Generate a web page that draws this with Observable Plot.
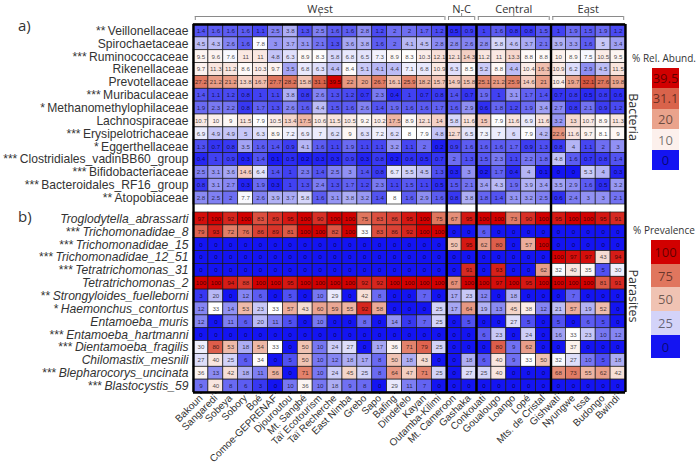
<!DOCTYPE html>
<html><head><meta charset="utf-8">
<script src="https://cdn.jsdelivr.net/npm/d3@7"></script>
<script src="https://cdn.jsdelivr.net/npm/@observablehq/plot@0.6"></script>
<style>
body{margin:0;background:#fff;}
#chart{position:relative;width:696px;height:463px;overflow:hidden;font-family:"Liberation Sans",Arial,sans-serif;background:#fff;}
#chart svg{position:absolute;left:0;}
.lbl{position:absolute;line-height:1;white-space:nowrap;font-family:"Open Sans",sans-serif;color:#333;}
.box{position:absolute;display:flex;align-items:center;justify-content:center;font-family:"Open Sans",sans-serif;color:rgba(0,0,0,0.55);}
</style></head><body><div id="chart"></div>
<script>
// ---------- DATA ----------
const sites = ["Bakoun","Sangaredi","Sobeya","Sobory","Boé","Comoe-GEPRENAF","Djouroutou","Mt. Sangbé","Taï Ecotourism","Taï Recherche","East Nimba","Grebo","Sapo","Bafing","Dindefelo","Kayan","Outamba-Kilimi","Mt. Cameroon","Gashaka","Conkouati","Goualougo","Loango","Lopé","Mts. de Cristal","Gishwati","Nyungwe","Issa","Budongo","Bwindi"];
const regionNames = ["West","N-C","Central","East"];
const regionSizes = [17,2,5,5];

const bacteriaNames = ["Veillonellaceae","Spirochaetaceae","Ruminococcaceae","Rikenellaceae","Prevotellaceae","Muribaculaceae","Methanomethylophilaceae","Lachnospiraceae","Erysipelotrichaceae","Eggerthellaceae","Clostridiales_vadinBB60_group","Bifidobacteriaceae","Bacteroidales_RF16_group","Atopobiaceae"];
const bacteriaStars = ["**","","***","","","***","*","","***","*","***","***","***","**"];
const bacteriaAbundance = [
 [1.4,1.6,1.6,1.6,1.1,2.5,3.8,1.3,2.5,1.6,1.6,2.8,1.2,2,2,1.7,1.2,0.5,0.9,1,1.6,0.8,0.8,1.5,1,1.9,1.5,1.9,1.2],
 [4.5,4.3,2.6,1.6,7.8,3,3.7,3.1,2.1,1.3,3.6,3.8,1.6,2,4.1,4.5,2.8,2.8,2.6,2.8,5.8,4.6,3.7,2.1,3.9,3.3,1.6,5,3.4],
 [9.5,9.6,7.6,11,11,4.8,6.3,8.9,8.3,5.8,6.8,6.5,7.3,8.9,8.3,10.3,12.1,12.1,14.3,11.2,11,13.3,8.8,8.8,10,8.9,7.5,10.5,9.5],
 [9.7,11.3,11.2,8.6,10.3,9.7,3.5,6.8,6.3,4.4,8.4,5.1,4.1,4.4,7.1,6.8,10.9,6.3,8.5,5.2,8.8,4.4,10.4,16.3,10.9,6.2,2.9,4.5,11.5],
 [27.2,21.2,21.2,13.8,16.7,27.7,28.2,15.8,31.1,39.5,22,20,26.7,16.1,25.9,18.2,15.7,14.9,15.8,25.1,21.2,25.9,14.6,21,10.4,19.7,32.1,27.6,19.8],
 [1.4,1.1,1.2,0.8,1,1.1,3.8,0.8,2.6,1.3,1.2,0.7,2.3,0.4,1,0.7,0.8,1.4,0.7,1.9,1,3.1,1.7,1.4,0.7,0.8,0.5,0.8,0.6],
 [1.9,2.3,2.2,0.8,1.7,1.3,2.6,1.6,4.4,1.5,1.6,2.6,1.4,1.9,1.6,1.6,1.7,1.6,2.9,0.6,1.8,1.2,1.9,3.4,2.7,0.8,2.1,0.9,1.2],
 [10.7,10,9,11.5,7.9,10.5,13.4,17.5,10.6,11.5,10.5,9.2,10.2,17.5,8.9,12.1,14,5.8,11.6,15,7.9,11.6,6.9,11.6,3.2,13,10.7,8.9,11.3],
 [6.9,4.9,4.9,5,6.3,8.9,7.2,6.9,7,6.2,9,6.3,7.2,6.2,8,7.9,4.8,12.7,6.5,7.3,7,6,7.9,4.2,22.6,11.6,9.7,8.1,9],
 [1.3,0.7,0.8,3.5,1.6,1.4,0.9,4.1,1.6,1.1,1.9,1.1,1.1,3.2,1.1,2,0.2,0.9,1.6,1.6,1.6,1.7,0.9,1.3,0.8,4,1.1,2,3],
 [0.4,1,0.9,0.3,1.4,0.1,0.5,0.2,0.3,0.3,0.9,0.3,0.8,0.2,0.6,0.5,0.7,2,1.3,1.5,2.3,1.1,2.2,1.8,4.8,1.6,0.7,0.8,1.4],
 [2.5,3.1,3.6,14.6,6.4,1.4,1,2.3,1.4,2.5,3,1.4,0.8,6.7,5.5,4.5,1.3,0.3,3,0.2,1.7,0.4,4,0.1,0,0,5.3,4,0.3],
 [0.8,3.1,2.7,0.3,1.9,0.3,1,1.3,2.4,1.3,1.7,1.2,2.3,1.1,1.5,1.1,0.5,1.5,2.1,3.4,4.3,1.9,3.9,3.4,3.5,2.9,1.6,0.5,3.2],
 [2.8,2.5,2,7.7,2.6,3.9,3.7,5.8,1.6,3.1,3.8,3.2,1.4,8,1.6,2.9,1.6,0.8,3.8,1.8,1.4,3.1,3.2,2.5,0.6,2.4,3,3,2.1]
];

const parasiteNames = ["Troglodytella_abrassarti","Trichomonadidae_8","Trichomonadidae_15","Trichomonadidae_12_51","Tetratrichomonas_31","Tetratrichomonas_2","Strongyloides_fuelleborni","Haemonchus_contortus","Entamoeba_muris","Entamoeba_hartmanni","Dientamoeba_fragilis","Chilomastix_mesnili","Blepharocorys_uncinata","Blastocystis_59"];
const parasiteStars = ["","***","***","***","***","","**","*","","***","***","","***","***"];
const parasitePrevalence = [
 [97,100,92,100,83,89,95,100,90,100,100,75,83,86,95,100,75,67,95,100,100,73,90,100,95,100,100,95,91],
 [79,93,72,76,86,89,81,100,100,82,100,33,83,86,92,100,100,0,0,6,0,0,0,0,0,0,0,0,0],
 [0,0,0,0,0,0,0,0,0,0,0,0,0,0,0,0,0,50,95,62,80,0,57,100,0,0,0,0,0],
 [0,0,0,0,0,0,0,0,0,0,0,0,0,0,0,0,0,0,0,0,0,0,0,0,100,97,97,43,94],
 [0,0,0,0,0,0,0,0,0,0,0,0,0,0,0,0,0,0,91,0,93,0,0,62,32,40,35,5,30],
 [100,100,94,88,100,100,95,100,100,100,100,92,92,100,100,100,100,67,100,100,97,100,95,100,100,100,100,81,91],
 [3,20,0,12,6,0,5,0,10,29,0,42,8,0,0,7,0,17,23,12,0,18,0,0,0,7,0,0,0],
 [12,33,14,53,23,33,57,43,60,59,55,92,58,0,0,0,25,17,64,19,13,45,38,12,21,57,19,52,0],
 [12,0,11,6,20,11,5,0,10,0,0,8,0,14,3,7,25,0,5,0,0,27,5,0,5,0,6,5,0],
 [0,0,0,0,0,0,0,0,0,0,0,0,0,0,0,0,0,0,0,6,23,0,24,0,16,33,23,10,12],
 [30,80,53,18,54,33,0,50,10,24,27,0,17,36,71,79,25,0,0,0,80,9,62,0,0,37,0,0,0],
 [27,40,25,6,34,0,5,50,10,12,18,17,8,50,18,43,0,0,18,6,40,9,33,50,32,27,10,5,18],
 [36,13,42,18,11,56,0,71,10,24,45,25,8,64,47,71,25,0,27,25,40,0,0,0,68,73,55,62,42],
 [9,40,8,6,3,0,10,36,10,18,9,8,0,29,11,7,0,0,0,0,0,0,0,0,0,0,0,0,0]
];

const abundLegend = [39.5, 31.1, 20, 10, 0];
const prevLegend = [100, 75, 50, 25, 0];

// ---------- PREP ----------
function cellsOf(matrix){const out=[];matrix.forEach((row,r)=>row.forEach((v,c)=>out.push({row:r,col:c,value:v})));return out;}
const bacteriaCells = cellsOf(bacteriaAbundance);
const parasiteCells = cellsOf(parasitePrevalence);
const regions=[];let acc=0;
regionNames.forEach((n,i)=>{regions.push({name:n,start:acc,end:acc+regionSizes[i]});acc+=regionSizes[i];});
const boundaries=[0,...regions.map(r=>r.end)];
const bacteriaRows = bacteriaNames.map((n,i)=>({row:i,label:(bacteriaStars[i]?bacteriaStars[i]+"\u2009":"")+n}));
const parasiteRows = parasiteNames.map((n,i)=>({row:i,label:(parasiteStars[i]?parasiteStars[i]+"\u2009":"")+n}));
const nS = sites.length, nA = bacteriaNames.length, nB = parasiteNames.length;

const BLUE="#1414f2";
const colorA = {type:"linear", domain:[0,2,4,8,20,31.1,39.5], range:[BLUE,"#6e6ef2","#b4b4f5","#ffffff","#eaa38c","#d9634b","#d10000"], interpolate:"rgb", clamp:true};
const colorB = {type:"linear", domain:[0,6,18,33,50,75,100], range:[BLUE,"#5c5cf2","#adadf3","#ffffff","#f0c3b3","#e0765e","#d20000"], interpolate:"rgb", clamp:true};

const baseStyle = {fontFamily:"'Liberation Sans', Arial, sans-serif", fontSize:"10px", color:"#333", background:"transparent", overflow:"visible"};
const cellMarks = (cells)=>[
  Plot.rect(cells,{x1:d=>d.col,x2:d=>d.col+1,y1:d=>d.row,y2:d=>d.row+1,fill:"value",stroke:"#1a1a1a",strokeWidth:0.7}),
  Plot.text(cells,{x:d=>d.col+0.5,y:d=>d.row+0.5,text:d=>String(d.value),fontSize:6.2,fill:"#000",fillOpacity:0.72})
];

const plotA = Plot.plot({
  width:696, height:204, marginLeft:193, marginRight:71, marginTop:24, marginBottom:0,
  x:{domain:[0,nS], axis:null},
  y:{domain:[0,nA], reverse:true, axis:null},
  color: colorA,
  style: baseStyle,
  marks:[
    ...cellMarks(bacteriaCells),
    Plot.text(bacteriaRows,{frameAnchor:"left", y:d=>d.row+0.5, text:"label", textAnchor:"end", dx:-5, fontSize:12.1, fill:"#333"}),
    Plot.ruleX(boundaries,{stroke:"#000",strokeWidth:2.4}),
    Plot.ruleY([0],{stroke:"#000",strokeWidth:2.4}),
    Plot.ruleY(regions,{y:d=>0, x1:d=>d.start+0.12, x2:d=>d.end-0.12, dy:-8, stroke:"#8a8a8a", strokeWidth:1}),
    Plot.ruleX(regions,{x:d=>d.start+0.12, y1:d=>0, y2:d=>0, insetTop:-8, insetBottom:4, stroke:"#8a8a8a", strokeWidth:1}),
    Plot.ruleX(regions,{x:d=>d.end-0.12, y1:d=>0, y2:d=>0, insetTop:-8, insetBottom:4, stroke:"#8a8a8a", strokeWidth:1}),
    Plot.ruleX(regions,{x:d=>(d.start+d.end)/2, y1:d=>0, y2:d=>0, insetTop:-11, insetBottom:8, stroke:"#8a8a8a", strokeWidth:1}),
    Plot.text(regions,{x:d=>(d.start+d.end)/2, frameAnchor:"top", text:"name", dy:-19, fontSize:11, fontFamily:"Open Sans", fill:"#333"})
  ]
});

const plotB = Plot.plot({
  width:696, height:259, marginLeft:193, marginRight:71, marginTop:8, marginBottom:71,
  x:{domain:[0,nS], ticks:d3.range(nS).map(i=>i+0.5), tickFormat:v=>sites[Math.floor(v)], tickRotate:-45, tickSize:2, tickPadding:2, label:null},
  y:{domain:[0,nB], reverse:true, axis:null},
  color: colorB,
  style: baseStyle,
  marks:[
    ...cellMarks(parasiteCells),
    Plot.text(parasiteRows,{frameAnchor:"left", y:d=>d.row+0.5, text:"label", textAnchor:"end", dx:-5, fontSize:12.1, fill:"#333"}),
    Plot.ruleX(boundaries,{stroke:"#000",strokeWidth:2.4, insetTop:-8}),
    Plot.ruleY([nB],{stroke:"#000",strokeWidth:2.4})
  ]
});

const chart = document.getElementById("chart");
plotA.style.top="0px"; plotB.style.top="204px";
chart.appendChild(plotA); chart.appendChild(plotB);

// italic species names, upright stars
d3.select(plotB).selectAll("text").each(function(){
  const t=this.textContent; const m=/^(\**)\u2009?(.*)$/.exec(t);
  if(m && parasiteNames.includes(m[2]) && this.querySelector("tspan")==null){
    const s=d3.select(this); s.text(null);
    if(m[1]) s.append("tspan").attr("font-style","normal").text(m[1]+"\u2009");
    s.append("tspan").attr("font-style","italic").text(m[2]);
  }
});

function addLabel(text, x, y, size, extra){
  const d=document.createElement("div"); d.className="lbl"; d.textContent=text;
  d.style.left=x+"px"; d.style.top=y+"px"; d.style.fontSize=size+"px";
  d.style.transform=extra||"translate(0,-50%)";
  chart.appendChild(d); return d;
}
addLabel("a)",18,25,15);
addLabel("b)",18,216,15);
addLabel("% Rel. Abund.",664,58,10,"translate(-50%,-50%)");
addLabel("% Prevalence",664,230,10,"translate(-50%,-50%)");
addLabel("Bacteria",633,117,12.5,"translate(-50%,-50%) rotate(90deg)");
addLabel("Parasites",633,296,12.5,"translate(-50%,-50%) rotate(90deg)");

function legend(values, scale, left, top, w, h){
  values.forEach((v,i)=>{
    const b=document.createElement("div"); b.className="box";
    b.style.left=left+"px"; b.style.top=(top+i*h)+"px"; b.style.width=w+"px"; b.style.height=h+"px";
    b.style.background=scale.apply(v); b.style.fontSize="13px"; b.textContent=String(v);
    chart.appendChild(b);
  });
}
legend(abundLegend, plotA.scale("color"), 652, 67.5, 27, 20.6);
legend(prevLegend, plotB.scale("color"), 651, 240, 29, 23.7);
</script></body></html>
